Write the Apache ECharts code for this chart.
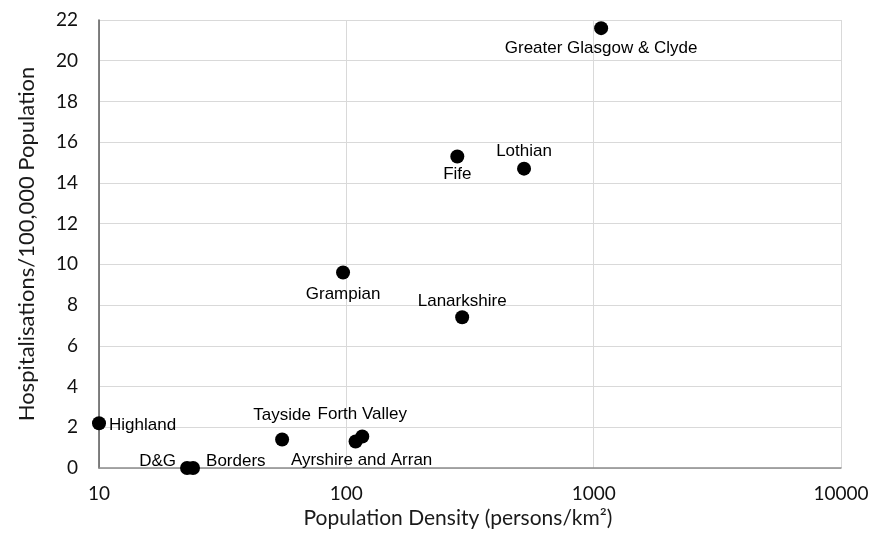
<!DOCTYPE html>
<html>
<head>
<meta charset="utf-8">
<script src="https://cdn.jsdelivr.net/npm/echarts@6/dist/echarts.min.js"></script>
<style>html,body{margin:0;padding:0;background:#fff}#c{width:876px;height:544px}</style>
</head>
<body>
<div id="c"></div>
<script>
// Data
const regions = ['Greater Glasgow & Clyde','Lothian','Fife','Grampian','Lanarkshire','Highland','Tayside','Forth Valley','Ayrshire and Arran','D&G','Borders'];
const density = [1072, 523, 281, 97, 294, 10, 55, 116, 109, 22.7, 24];
const hospitalisations = [21.6, 14.7, 15.3, 9.6, 7.4, 2.2, 1.4, 1.55, 1.3, 0.0, 0.0];
const xTicks = ['10','100','1000','10000'];
const yTicks = ['0','2','4','6','8','10','12','14','16','18','20','22'];

// label placement (style only), array positions relative to the 14x14 symbol box
const labelPlace = {
  'Greater Glasgow & Clyde': {position:'bottom', distance:5},
  'Lothian': {position:'top', distance:2},
  'Fife': {position:'bottom', distance:2},
  'Grampian': {position:'bottom', distance:6},
  'Lanarkshire': {position:'top', distance:0},
  'Highland': {position:[17,9], align:'left', verticalAlign:'middle'},
  'Tayside': {position:'top', distance:9},
  'Forth Valley': {position:'top', distance:7},
  'Ayrshire and Arran': {position:[13,17], align:'center', verticalAlign:'top'},
  'D&G': {position:[-4,0], align:'right', verticalAlign:'middle'},
  'Borders': {position:[20,0], align:'left', verticalAlign:'middle'}
};

const chart = echarts.init(document.getElementById('c'), null, {renderer:'canvas'});
const data = regions.map((r,i)=>({
  name: r,
  value: [density[i], hospitalisations[i]],
  label: Object.assign({show:true, formatter:r}, labelPlace[r])
}));

chart.setOption({
  animation:false,
  backgroundColor:'#fff',
  grid:{left:99, right:35, top:20, bottom:76},
  xAxis:{
    type:'log', logBase:10, min:10, max:10000,
    name:'Population Density (persons/km\u00B2)',
    nameLocation:'middle', nameGap:40,
    nameTextStyle:{fontFamily:'Lato', fontSize:21, color:'#1a1a1a', padding:[0,24,0,0]},
    axisLine:{show:true, lineStyle:{color:'#8c8c8c', width:1.5}},
    axisTick:{show:false},
    axisLabel:{fontFamily:'Lato', fontSize:19, color:'#111', margin:16,
      formatter:(v)=>{const s=String(Math.round(v)); return xTicks.indexOf(s)>=0?s:'';}},
    splitLine:{show:true, lineStyle:{color:'#d9d9d9', width:1}},
    minorTick:{show:false}, minorSplitLine:{show:false}
  },
  yAxis:{
    type:'value', min:0, max:22, interval:2,
    name:'Hospitalisations/100,000 Population',
    nameLocation:'middle', nameGap:61,
    nameTextStyle:{fontFamily:'Lato', fontSize:22, color:'#1a1a1a'},
    axisLine:{show:true, lineStyle:{color:'#595959', width:1.5}},
    axisTick:{show:false},
    axisLabel:{fontFamily:'Lato', fontSize:19, color:'#111', margin:21,
      formatter:(v)=>yTicks[Math.round(v/2)]},
    splitLine:{show:true, lineStyle:{color:'#d9d9d9', width:1}}
  },
  series:[{
    type:'scatter',
    symbol:'circle',
    symbolSize:14,
    itemStyle:{color:'#000', opacity:1},
    label:{show:true, fontFamily:'Liberation Sans', fontSize:17, color:'#000'},
    labelLayout:{hideOverlap:false},
    data:data
  }]
});
</script>
</body>
</html>
